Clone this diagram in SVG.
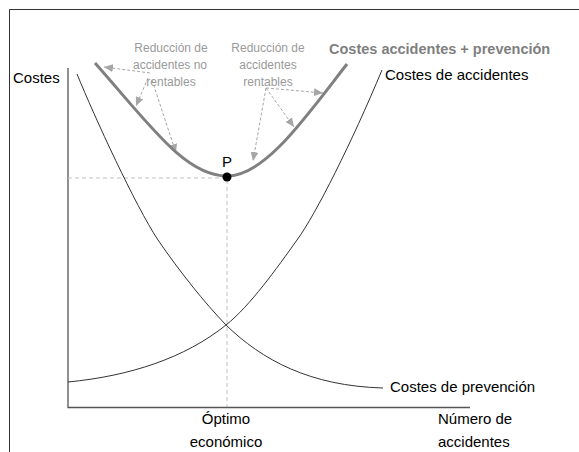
<svg xmlns="http://www.w3.org/2000/svg" width="579" height="452" viewBox="0 0 579 452">
<style>
.lbl{font-family:"Liberation Sans",Arial,sans-serif;font-size:15px;fill:#000}
.note{font-family:"Liberation Sans",Arial,sans-serif;font-size:12px;fill:#9a9a9a;text-anchor:middle}
.ttl{font-family:"Liberation Sans",Arial,sans-serif;font-size:14.5px;font-weight:bold;fill:#7f7f7f}
.axis{stroke:#555;stroke-width:1.3;fill:none}
.curve{stroke:#333;stroke-width:1;fill:none}
.guide{stroke:#c0c0c0;stroke-width:1;stroke-dasharray:4 3;fill:none}
.arr{stroke:#a6a6a6;stroke-width:1;stroke-dasharray:3 2;fill:none;marker-end:url(#ah)}
</style>
<defs>
<marker id="ah" markerUnits="userSpaceOnUse" markerWidth="10" markerHeight="8" refX="9" refY="4" orient="auto">
<path d="M0,0 L9,4 L0,8 Z" fill="#a6a6a6"/>
</marker>
</defs>
<rect width="579" height="452" fill="#fff"/>
<g id="frame">
<path d="M9.5,452 V9.5 H579" stroke="#333" stroke-width="1" fill="none"/>
</g>
<g id="axes">
<path class="axis" d="M68,68 V407.5 H470"/>
<text class="lbl" x="13" y="83">Costes</text>
<text class="lbl" x="226" y="424" text-anchor="middle">Óptimo</text>
<text class="lbl" x="226" y="447" text-anchor="middle">económico</text>
<text class="lbl" x="438" y="424">Número de</text>
<text class="lbl" x="438" y="447">accidentes</text>
</g>
<g id="connectors">
<path class="guide" d="M68,178 H227"/>
<path class="guide" d="M227,180 V407"/>
<path class="arr" d="M150,73 L104,67"/>
<path class="arr" d="M148,78 L136,106"/>
<path class="arr" d="M152,80 L176,153"/>
<path class="arr" d="M266,88 L323,93"/>
<path class="arr" d="M266,88 L294,127"/>
<path class="arr" d="M266,88 L253,161"/>
</g>
<g id="costes-accidentes">
<path class="curve" d="M68,382 C130,376 185,358 226,325 C250,306 277,268 297,240 C316,214 352,142 382,70"/>
<text class="lbl" x="385" y="80">Costes de accidentes</text>
</g>
<g id="costes-prevencion">
<path class="curve" d="M77,74 C95,118 135,205 158,240 C180,272 204,302 226,325 C262,360 310,386 383,388"/>
<text class="lbl" x="390" y="392">Costes de prevención</text>
</g>
<g id="costes-total">
<path d="M95,63 C150,125 185,176 227,176 C265,176 305,118 347,64" stroke="#808080" stroke-width="3" fill="none"/>
<text class="ttl" x="329" y="54">Costes accidentes + prevención</text>
</g>
<g id="punto-p">
<circle cx="227" cy="177" r="4.5" fill="#000"/>
<text class="lbl" x="227" y="167" text-anchor="middle">P</text>
</g>
<g id="nota-no-rentables">
<text class="note" x="171" y="52">Reducción de</text>
<text class="note" x="170" y="69">accidentes no</text>
<text class="note" x="171" y="86">rentables</text>
</g>
<g id="nota-rentables">
<text class="note" x="268" y="52">Reducción de</text>
<text class="note" x="268" y="69">accidentes</text>
<text class="note" x="268" y="86">rentables</text>
</g>
</svg>
